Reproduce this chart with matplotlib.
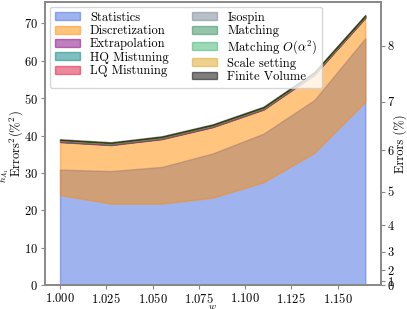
import numpy as np
import matplotlib
matplotlib.use('Agg')
import matplotlib.pyplot as plt

plt.rcParams['font.family'] = 'serif'
plt.rcParams['font.serif'] = ['cmr10', 'DejaVu Serif']
plt.rcParams['mathtext.fontset'] = 'cm'
plt.rcParams['axes.unicode_minus'] = False
plt.rcParams['axes.formatter.use_mathtext'] = True
plt.rcParams['font.size'] = 9

# recoil values
w = [1.0, 1.0275, 1.055, 1.0825, 1.11, 1.1375, 1.165]

# squared errors (%^2)
stat_top = [30.9, 30.5, 31.6, 35.2, 40.5, 49.5, 66.0]   # blue fill top (under the orange)
disc_base = [24.1, 21.8, 21.8, 23.4, 27.5, 35.4, 49.0]  # orange fill base
disc_top = [38.25, 37.45, 39.05, 42.25, 46.95, 56.25, 71.45]

labels = ['Statistics', 'Discretization', 'Extrapolation', 'HQ Mistuning', 'LQ Mistuning',
          'Isospin', 'Matching', r'Matching $O(\alpha^2)$', 'Scale setting', 'Finite Volume']
colors = ['royalblue', 'darkorange', 'purple', 'teal', 'crimson',
          'slategray', 'seagreen', 'mediumseagreen', 'goldenrod', 'black']
# small contributions stacked on top
small = [0.1, 0.05, 0.15, 0.05, 0.1, 0.05, 0.05, 0.2]

fig, ax = plt.subplots(figsize=(4.07, 3.09), dpi=100)

ax.fill_between(w, 0, stat_top, color=colors[0], alpha=0.5, label=labels[0])
ax.fill_between(w, disc_base, disc_top, color=colors[1], alpha=0.5, label=labels[1])
lo = np.array(disc_top)
for lab, col, s in zip(labels[2:], colors[2:], small):
    hi = lo + s
    ax.fill_between(w, lo, hi, color=col, alpha=0.5, label=lab)
    lo = hi

ax.set_ylim(0, 75.8)
ax.set_xlabel(r'$w$', fontsize=7)
ax.xaxis.set_label_coords(0.5, -0.06)
ax.set_ylabel('Errors$^2$(%$^2$)')
ax.yaxis.set_label_coords(-0.058, 0.5)
fig.text(0.011, 0.43, '$h_{A_1}$', rotation=90, ha='center', va='center', fontsize=7)
ax.legend(ncol=2, loc='upper left', fontsize=9, labelspacing=0.1,
          handlelength=2.0, handleheight=0.6, borderaxespad=0.4, columnspacing=1.9)

ax2 = ax.twinx()
ax2.set_ylim(ax.get_ylim())
ticks = np.arange(0, 9)
ax2.set_yticks(ticks ** 2)
ax2.set_yticklabels([str(t) for t in ticks])
ax2.set_ylabel('Errors (%)', labelpad=0)

for a in (ax, ax2):
    for sp in a.spines.values():
        sp.set_color('#888888')
        sp.set_linewidth(1.2)
    a.tick_params(color='#888888', length=3, pad=2)

fig.subplots_adjust(left=0.11, right=0.935, top=0.995, bottom=0.077)
fig.savefig('out.png', dpi=100)
